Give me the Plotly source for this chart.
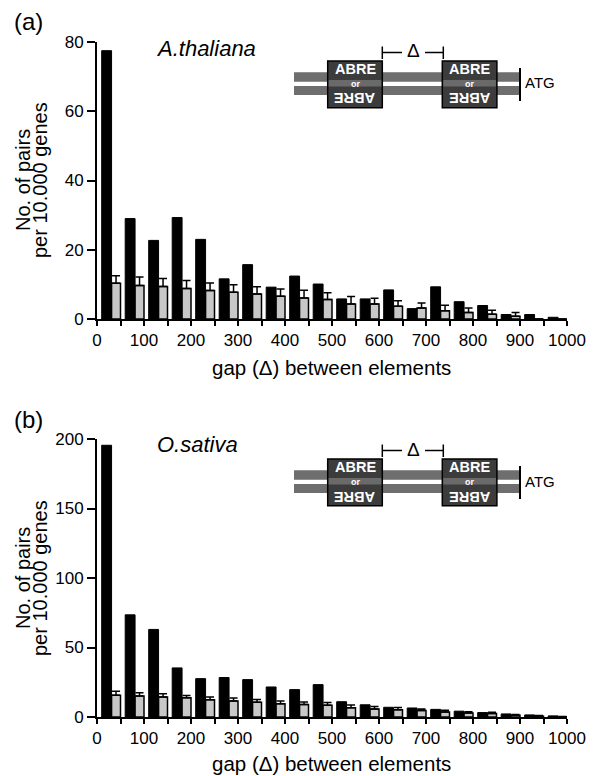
import plotly.graph_objects as go

# ---------------- data ----------------
bins = list(range(0, 1000, 50))
x_tick_vals = list(range(0, 1001, 50))
x_tick_text = [str(v) if v % 100 == 0 else "" for v in x_tick_vals]

a_black = [77.5, 29.0, 22.7, 29.3, 23.0, 11.6, 15.7, 9.2, 12.4, 10.1,
           5.8, 5.8, 8.4, 3.0, 9.3, 5.0, 3.9, 1.3, 1.3, 0.5]
a_gray = [10.3, 9.7, 9.4, 8.8, 8.2, 7.7, 7.2, 6.6, 6.1, 5.6,
          4.3, 4.3, 3.7, 3.2, 2.4, 1.9, 1.4, 0.8, 0.0, 0.0]
a_err = [2.2, 2.4, 2.3, 2.3, 2.2, 2.2, 2.1, 2.1, 2.2, 2.0,
         2.2, 1.7, 1.6, 1.4, 1.6, 1.3, 1.1, 1.1, 0.0, 0.0]

b_black = [195.5, 73.5, 63.0, 35.3, 27.6, 28.4, 26.9, 21.6, 19.7, 23.3,
           11.0, 8.8, 7.0, 6.5, 5.5, 4.2, 3.2, 2.2, 1.5, 0.8]
b_gray = [15.6, 15.1, 14.4, 13.9, 12.4, 11.6, 10.7, 9.5, 9.0, 8.5,
          6.7, 5.8, 5.2, 4.6, 3.6, 2.8, 2.5, 1.2, 0.6, 0.2]
b_err = [2.9, 2.4, 2.4, 1.6, 2.0, 2.0, 1.9, 2.0, 1.8, 2.0,
         1.9, 1.7, 1.6, 1.2, 1.3, 1.0, 1.0, 0.6, 0.5, 0.2]

a_yticks = [0, 20, 40, 60, 80]
b_yticks = [0, 50, 100, 150, 200]

# ---------------- geometry helpers ----------------
W, H = 600, 776
FONT = "Liberation Sans, Arial, Helvetica, sans-serif"


def px(x):
    return x / W


def py(y):
    return 1 - y / H


fig = go.Figure()

panels = [
    (a_black, a_gray, a_err, "x", "y"),
    (b_black, b_gray, b_err, "x2", "y2"),
]
for blk, gry, err, xa, ya in panels:
    fig.add_trace(go.Bar(
        x=bins, y=blk, offset=10, width=21, xaxis=xa, yaxis=ya,
        marker=dict(color="black", line=dict(color="black", width=1)),
        showlegend=False, hoverinfo="skip"))
    fig.add_trace(go.Bar(
        x=bins, y=gry, offset=31, width=19, xaxis=xa, yaxis=ya,
        marker=dict(color="#c8c8c8", line=dict(color="black", width=1.5)),
        error_y=dict(type="data", array=err, arrayminus=[0] * len(err),
                     symmetric=False, color="black", thickness=1.5, width=4),
        showlegend=False, hoverinfo="skip"))

axis_common = dict(showline=True, linecolor="black", linewidth=2,
                   ticks="outside", tickcolor="black", tickwidth=2,
                   showgrid=False, zeroline=False, automargin=False,
                   tickfont=dict(family=FONT, size=17, color="black"))

fig.update_layout(
    width=W, height=H,
    margin=dict(l=0, r=0, t=0, b=0, pad=0, autoexpand=False),
    paper_bgcolor="white", plot_bgcolor="white",
    barmode="overlay",
    font=dict(family=FONT, color="black"),
    xaxis=dict(domain=[px(97), px(567)], range=[0, 1000], anchor="y",
               tickvals=x_tick_vals, ticktext=x_tick_text, ticklen=5,
               **axis_common),
    yaxis=dict(domain=[py(319), py(42)], range=[0, 80], anchor="x",
               tickvals=a_yticks, ticklen=8, **axis_common),
    xaxis2=dict(domain=[px(97), px(567)], range=[0, 1000], anchor="y2",
                tickvals=x_tick_vals, ticktext=x_tick_text, ticklen=5,
                **axis_common),
    yaxis2=dict(domain=[py(717), py(439)], range=[0, 200], anchor="x2",
                tickvals=b_yticks, ticklen=8, **axis_common),
)

annotations = []
shapes = []


def txt(x, y, s, size, angle=0, color="black", xanchor="center", bold=False):
    if bold:
        s = "<b>" + s + "</b>"
    annotations.append(dict(x=px(x), y=py(y), xref="paper", yref="paper",
                            text=s, showarrow=False, textangle=angle,
                            xanchor=xanchor, yanchor="middle",
                            font=dict(family=FONT, size=size, color=color)))


def rect(x0, y0, x1, y1, fill, line_color=None, lw=0):
    shapes.append(dict(type="rect", xref="paper", yref="paper",
                       x0=px(x0), x1=px(x1), y0=py(y1), y1=py(y0),
                       fillcolor=fill,
                       line=dict(color=line_color or fill, width=lw)))


def seg(x0, y0, x1, y1, lw=1.5, color="black"):
    shapes.append(dict(type="line", xref="paper", yref="paper",
                       x0=px(x0), x1=px(x1), y0=py(y0), y1=py(y1),
                       line=dict(color=color, width=lw)))


labels = [("(a)", "<i>A.thaliana</i>", 206, 48, 180, 367),
          ("(b)", "<i>O.sativa</i>", 197, 445, 578, 763)]
for k, (lab, species, sx, sy, cy, ty) in enumerate(labels):
    dy = 398 * k
    txt(28, 21 + dy, lab, 24)
    txt(sx, sy, species, 22)
    txt(23, cy, "No. of pairs", 20, angle=-90)
    txt(40, cy, "per 10.000 genes", 20, angle=-90)
    txt(331, ty, "gap (\u0394) between elements", 20.5)

    # ---- inset diagram ----
    rect(294, 72.3 + dy, 520, 81.7 + dy, "#6e6e6e")
    rect(294, 86 + dy, 520, 95 + dy, "#6e6e6e")
    seg(520, 68 + dy, 520, 101 + dy, lw=2)
    txt(523, 83 + dy, "ATG", 15, xanchor="left")
    for bx0 in (327.7, 442.3):
        bx1 = bx0 + 54.6
        rect(bx0, 61 + dy, bx1, 107.7 + dy, "#3c3c3c", "black", 1.5)
        rect(bx0 + 1, 80 + dy, bx1 - 1, 86.5 + dy, "#6a6a6a")
        cx = (bx0 + bx1) / 2
        txt(cx, 68.5 + dy, "ABRE", 14.5, color="white", bold=True)
        txt(cx, 83.5 + dy, "or", 9, color="white", bold=True)
        txt(cx, 98.5 + dy, "ABRE", 14.5, angle=180, color="white", bold=True)
    # delta bracket
    seg(382.3, 46.5 + dy, 382.3, 59 + dy)
    seg(443.3, 46.5 + dy, 443.3, 59 + dy)
    seg(382.3, 52.5 + dy, 402, 52.5 + dy)
    seg(425, 52.5 + dy, 443.3, 52.5 + dy)
    txt(413.5, 51 + dy, "\u0394", 19)

fig.update_layout(annotations=annotations, shapes=shapes)

fig.write_html(
    "out.html",
    config={"displayModeBar": False},
    post_script="document.body.style.margin='0px';"
                "document.body.style.padding='0px';")
